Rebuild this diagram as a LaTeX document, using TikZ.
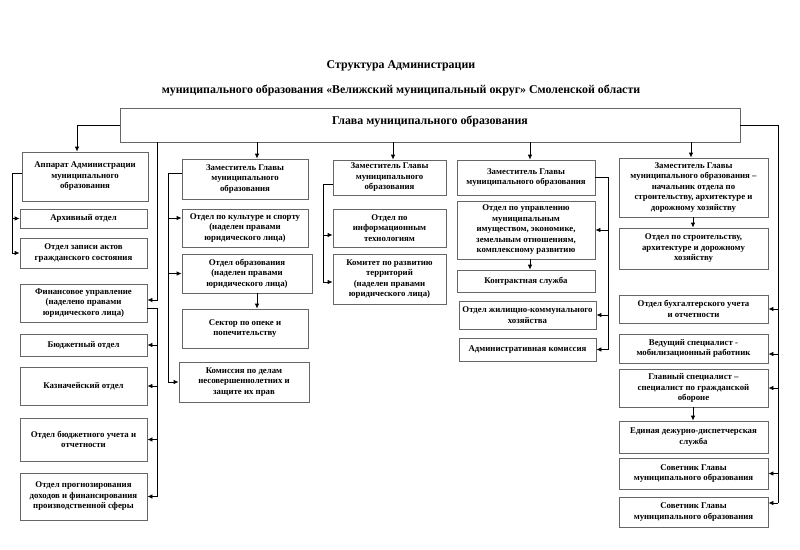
\documentclass[tikz,border=0pt]{standalone}
\usepackage{fontspec}
\setmainfont{Liberation Serif}
\usetikzlibrary{arrows.meta}
\tikzset{
  bx/.style={draw=black!60, line width=0.8pt, fill=white, align=center, inner sep=1pt,
    font=\bfseries\fontsize{8.8}{10.5}\selectfont},
  ttl/.style={font=\bfseries\fontsize{11.9}{13.5}\selectfont, inner sep=0pt},
  arr/.style={-{Latex[length=5pt,width=4.5pt]}, line width=0.8pt, black},
  ln/.style={line width=0.8pt, black}
}
\newcommand\mybox[6]{\node[bx,minimum width={(#4-#2)*1pt},minimum height={(#5-#3)*1pt}] (#1) at ({(#2+#4)/2},{(#3+#5)/2}) {#6};}
\begin{document}
\begin{tikzpicture}[x=1pt,y=-1pt]
\fill[white] (0,0) rectangle (800,549);
\useasboundingbox (0,0) rectangle (800,549);

% titles
\node[ttl] (t1) at (401,66) {Структура Администрации};
\node[ttl] (t2) at (401,91) {муниципального образования «Велижский муниципальный округ» Смоленской области};

% head
\node[bx, font=\bfseries\fontsize{11.9}{13.5}\selectfont, minimum width=620pt, minimum height=34pt, text depth=10pt] (gl) at (430,125) {Глава муниципального образования};

% left column
\mybox{app}{22}{152}{148}{201}{Аппарат Администрации\\муниципального\\образования}
\mybox{arh}{20}{209}{147}{228}{Архивный отдел}
\mybox{zap}{20}{238}{147}{268}{Отдел записи актов\\гражданского состояния}
\mybox{fin}{20}{284}{147}{322}{Финансовое управление\\(наделено правами\\юридического лица)}
\mybox{bud}{20}{334}{147}{356}{Бюджетный отдел}
\mybox{kaz}{20}{367}{147}{405}{Казначейский отдел}
\mybox{buu}{20}{418}{147}{461}{Отдел бюджетного учета и\\отчетности}
\mybox{prg}{20}{473}{147}{520}{Отдел прогнозирования\\доходов и финансирования\\производственной сферы}

% column 1
\mybox{za}{182}{159}{308}{199}{Заместитель Главы\\муниципального\\образования}
\mybox{kul}{182}{209}{308}{247}{Отдел по культуре и спорту\\(наделен правами\\юридического лица)}
\mybox{obr}{182}{254}{312}{293}{Отдел образования\\(наделен правами\\юридического лица)}
\mybox{sek}{182}{309}{308}{348}{Сектор по опеке и\\попечительству}
\mybox{kdn}{179}{362}{309}{402}{Комиссия по делам\\несовершеннолетних и\\защите их прав}

% column 2
\mybox{zb}{333}{160}{446}{195}{Заместитель Главы\\муниципального\\образования}
\mybox{it}{333}{209}{446}{247}{Отдел по\\информационным\\технологиям}
\mybox{ktr}{333}{254}{446}{304}{Комитет по развитию\\территорий\\(наделен правами\\юридического лица)}

% column 3
\mybox{zc}{457}{160}{595}{195}{Заместитель Главы\\муниципального образования}
\mybox{upr}{457}{201}{595}{259}{Отдел по управлению\\муниципальным\\имуществом, экономике,\\земельным отношениям,\\комплексному развитию}
\mybox{kon}{457}{270}{595}{292}{Контрактная служба}
\mybox{zkh}{459}{301}{596}{329}{Отдел жилищно-коммунального\\хозяйства}
\mybox{adm}{459}{338}{596}{361}{Административная комиссия}

% column 4
\mybox{zd}{619}{158}{768}{217}{Заместитель Главы\\муниципального образования –\\начальник отдела по\\строительству, архитектуре и\\дорожному хозяйству}
\mybox{str}{619}{228}{768}{269}{Отдел по строительству,\\архитектуре и дорожному\\хозяйству}
\mybox{buh}{619}{295}{768}{323}{Отдел бухгалтерского учета\\и отчетности}
\mybox{ved}{619}{334}{768}{363}{Ведущий специалист -\\мобилизационный работник}
\mybox{gsp}{619}{369}{768}{407}{Главный специалист –\\специалист по гражданской\\обороне}
\mybox{edds}{619}{421}{768}{453}{Единая дежурно-диспетчерская\\служба}
\mybox{sv1}{619}{458}{768}{489}{Советник Главы\\муниципального образования}
\mybox{sv2}{619}{497}{768}{527}{Советник Главы\\муниципального образования}

% helper coordinates
\coordinate (xA) at (77,0);
\coordinate (x12) at (12,0);
\coordinate (x157) at (157,0);
\coordinate (x168) at (168,0);
\coordinate (x257) at (257,0);
\coordinate (x323) at (323,0);
\coordinate (x393) at (393,0);
\coordinate (x530) at (530,0);
\coordinate (x608) at (608,0);
\coordinate (x691) at (691,0);
\coordinate (x693) at (693,0);
\coordinate (x778) at (778,0);

% from head
\draw[arr] (gl.west) -| (app.north -| xA);
\draw[arr] (gl.south -| x257) -- (za.north -| x257);
\draw[arr] (gl.south -| x393) -- (zb.north -| x393);
\draw[arr] (gl.south -| x530) -- (zc.north -| x530);
\draw[arr] (gl.south -| x691) -- (zd.north -| x691);
\coordinate (fi) at (157,300);
\draw[arr] (gl.south -| fi) -- (fi) -- (fin.east |- fi);

% finance
\coordinate (fo) at (157,308);
\draw[ln] (fin.east |- fo) -- (fo) -- (x157 |- prg.east);
\draw[arr] (x157 |- bud.east) -- (bud.east);
\draw[arr] (x157 |- kaz.east) -- (kaz.east);
\draw[arr] (x157 |- buu.east) -- (buu.east);
\draw[arr] (x157 |- prg.east) -- (prg.east);

% apparatus
\coordinate (ao) at (12,173);
\draw[ln] (app.west |- ao) -- (ao) -- (x12 |- zap.west);
\draw[arr] (x12 |- arh.west) -- (arh.west);
\draw[arr] (x12 |- zap.west) -- (zap.west);

% deputy 1
\coordinate (z1o) at (168,173);
\coordinate (k1) at (168,218);
\draw[ln] (za.west |- z1o) -- (z1o) -- (x168 |- kdn.west);
\draw[arr] (k1) -- (kul.west |- k1);
\draw[arr] (x168 |- obr.west) -- (obr.west);
\draw[arr] (x168 |- kdn.west) -- (kdn.west);
\draw[arr] (obr.south -| x257) -- (sek.north -| x257);

% deputy 2
\coordinate (z2o) at (323,184);
\coordinate (k2) at (323,235);
\coordinate (k3) at (323,282);
\draw[ln] (zb.west |- z2o) -- (z2o) -- (k3);
\draw[arr] (k2) -- (it.west |- k2);
\draw[arr] (k3) -- (ktr.west |- k3);

% deputy 3
\coordinate (z3o) at (608,177);
\draw[ln] (zc.east |- z3o) -- (z3o) -- (x608 |- adm.east);
\draw[arr] (x608 |- upr.east) -- (upr.east);
\draw[arr] (x608 |- zkh.east) -- (zkh.east);
\draw[arr] (x608 |- adm.east) -- (adm.east);
\draw[arr] (upr.south -| x530) -- (kon.north -| x530);

% deputy 4
\draw[arr] (zd.south -| x693) -- (str.north -| x693);
\draw[arr] (gsp.south -| x693) -- (edds.north -| x693);

% right trunk
\coordinate (r1) at (778,354);
\coordinate (r2) at (778,503);
\draw[ln] (gl.east) -| (r2);
\draw[arr] (x778 |- buh.east) -- (buh.east);
\draw[arr] (r1) -- (ved.east |- r1);
\draw[arr] (x778 |- gsp.east) -- (gsp.east);
\draw[arr] (x778 |- sv1.east) -- (sv1.east);
\draw[arr] (r2) -- (sv2.east |- r2);
\end{tikzpicture}
\end{document}
